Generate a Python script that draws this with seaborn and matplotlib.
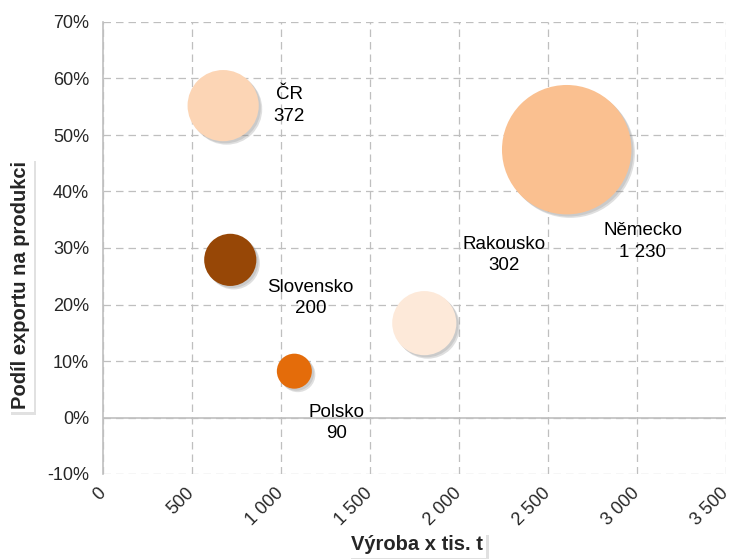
import pandas as pd
import seaborn as sns
import matplotlib.pyplot as plt
import matplotlib.patheffects as pe
from matplotlib.ticker import PercentFormatter, FuncFormatter, MultipleLocator

# data
zeme = ["ČR", "Slovensko", "Polsko", "Rakousko", "Německo"]
vyroba = [675, 715, 1075, 1805, 2605]          # tis. t
podil = [0.552, 0.279, 0.082, 0.167, 0.474]    # share of export on production
objem = [372, 200, 90, 302, 1230]              # bubble size
barvy = ["#FCD5B5", "#974706", "#E46C0A", "#FDE9D9", "#FAC090"]

# label offsets in pixels relative to bubble centre
posun = [(66, 0), (80, -38), (42, -52), (80, 68), (76, -92)]

df = pd.DataFrame({"zeme": zeme, "vyroba": vyroba, "podil": podil, "objem": objem})

sns.set_style("white")
plt.rcParams["font.family"] = ["Liberation Sans", "DejaVu Sans"]
plt.rcParams["axes.unicode_minus"] = False

fig = plt.figure(figsize=(7.32, 5.59), dpi=100)
ax = fig.add_axes([103 / 732, 1 - 474 / 559, 623 / 732, 452 / 559])

k = 7.06  # area per unit of size (points^2)
sns.scatterplot(data=df, x="vyroba", y="podil", hue="zeme", size="objem",
                palette=dict(zip(zeme, barvy)), sizes=(k * min(objem), k * max(objem)),
                size_norm=(min(objem), max(objem)), edgecolor="none", alpha=1,
                legend=False, ax=ax, zorder=3)
ax.collections[0].set_path_effects([
    pe.SimplePatchShadow(offset=(2.5, -2.5), shadow_rgbFace="#8c8c8c", alpha=0.28),
    pe.SimplePatchShadow(offset=(1.5, -1.5), shadow_rgbFace="#8c8c8c", alpha=0.25),
    pe.Normal()])

for z, x, y, n, (dx, dy) in zip(zeme, vyroba, podil, objem, posun):
    txt = f"{z}\n{n:,}".replace(",", " ")
    ax.annotate(txt, (x, y), xytext=(dx, dy), textcoords="offset pixels",
                ha="center", va="center", fontsize=13.5, color="black",
                linespacing=1.35, zorder=4)

ax.set_xlim(0, 3500)
ax.set_ylim(-0.10, 0.70)
ax.xaxis.set_major_locator(MultipleLocator(500))
ax.yaxis.set_major_locator(MultipleLocator(0.10))
ax.yaxis.set_major_formatter(PercentFormatter(1.0, decimals=0))
ax.xaxis.set_major_formatter(FuncFormatter(lambda v, p: f"{int(v):,}".replace(",", " ")))

ax.grid(True, color="#BFBFBF", linestyle=(0, (6, 4)), linewidth=0.9)
ax.axhline(0, color="#BFBFBF", linewidth=1.2, zorder=1)
for s in ["top", "right", "bottom"]:
    ax.spines[s].set_visible(False)
ax.spines["left"].set_color("#BFBFBF")
ax.spines["left"].set_linewidth(1.2)

ax.tick_params(axis="both", length=0, labelsize=13, labelcolor="#262626")
ax.tick_params(axis="y", pad=10)
for lab in ax.get_xticklabels():
    lab.set_rotation(45)
    lab.set_ha("right")
    lab.set_va("center")
    lab.set_rotation_mode("anchor")
ax.tick_params(axis="x", pad=12)
ax.set_xlabel("")
ax.set_ylabel("")

box = dict(boxstyle="square,pad=0.15", fc="white", ec="none")
yt = fig.text(21 / 732, 1 - 285 / 559, "Podíl exportu na produkci", rotation=90,
              ha="center", va="center", fontsize=14.5, fontweight="bold", bbox=box)
xt = fig.text(417 / 732, 1 - 545 / 559, "Výroba x tis. t", ha="center", va="center",
              fontsize=14.5, fontweight="bold", bbox=box)
for t in (yt, xt):
    t.get_bbox_patch().set_path_effects([
        pe.SimplePatchShadow(offset=(2, -2), shadow_rgbFace="#aaaaaa", alpha=0.35),
        pe.Normal()])

fig.savefig("out.png", dpi=100)
